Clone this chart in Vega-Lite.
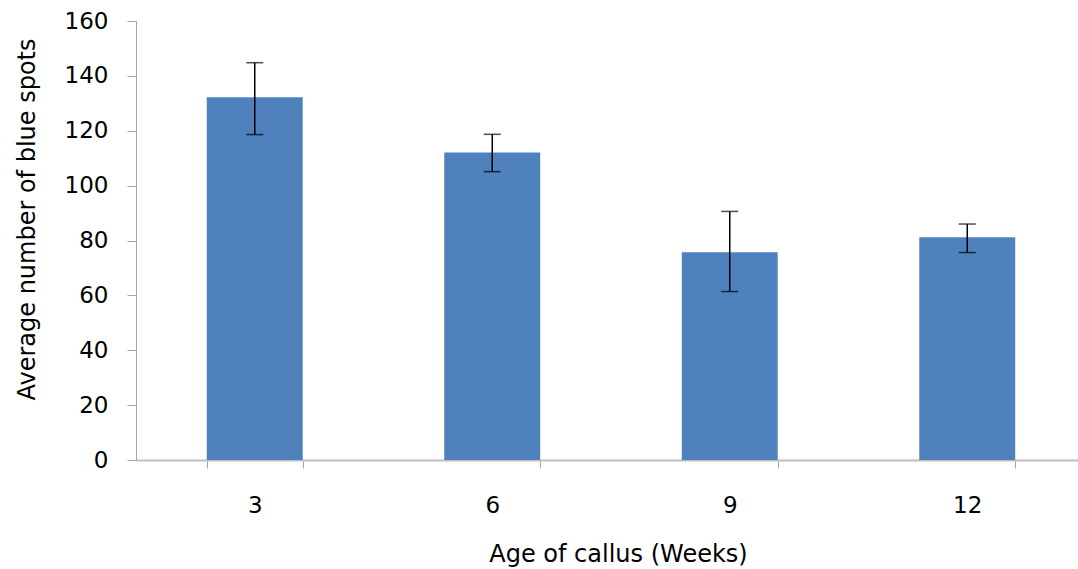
{
  "$schema": "https://vega.github.io/schema/vega-lite/v6.json",
  "autosize": "none",
  "padding": {"left": 136, "top": 21, "right": 0, "bottom": 109},
  "width": 942,
  "height": 439,
  "background": "white",
  "config": {
    "view": {"stroke": null},
    "font": "DejaVu Sans"
  },
  "data": {
    "values": [
      {"age": "3", "mean": 132.2, "low": 118.6, "high": 144.8},
      {"age": "6", "mean": 112.1, "low": 105.1, "high": 118.7},
      {"age": "9", "mean": 75.7, "low": 61.4, "high": 90.6},
      {"age": "12", "mean": 81.2, "low": 75.6, "high": 86.0}
    ]
  },
  "encoding": {
    "x": {
      "field": "age",
      "type": "ordinal",
      "sort": null,
      "scale": {"range": [0, 950], "paddingInner": 0.596, "paddingOuter": 0.298},
      "axis": {
        "title": "Age of callus (Weeks)",
        "labelAngle": 0,
        "labelFont": "DejaVu Sans",
        "labelFontSize": 23,
        "labelColor": "#000000",
        "labelPadding": 26,
        "tickSize": 8,
        "tickBand": "extent",
        "tickColor": "#A6A6A6",
        "domainColor": "#BFBFBF",
        "domainWidth": 2,
        "titleFont": "DejaVu Sans",
        "titleFontSize": 24,
        "titleFontWeight": "normal",
        "titleColor": "#000000",
        "titlePadding": 25,
        "titleX": 482
      }
    }
  },
  "layer": [
    {
      "mark": {"type": "bar", "color": "#4F81BD"},
      "encoding": {
        "y": {
          "field": "mean",
          "type": "quantitative",
          "scale": {"domain": [0, 160], "nice": false},
          "axis": {
            "title": "Average number of blue spots",
            "values": [0, 20, 40, 60, 80, 100, 120, 140, 160],
            "grid": false,
            "labelFont": "DejaVu Sans",
            "labelFontSize": 23,
            "labelColor": "#000000",
            "labelPadding": 19,
            "tickSize": 9,
            "tickColor": "#A6A6A6",
            "domainColor": "#A6A6A6",
            "titleFont": "DejaVu Sans",
            "titleFontSize": 24,
            "titleFontWeight": "normal",
            "titleColor": "#000000",
            "titlePadding": 25,
            "titleY": 198
          }
        }
      }
    },
    {
      "mark": {"type": "rule", "color": "#000000", "strokeWidth": 1.5},
      "encoding": {
        "y": {"field": "low", "type": "quantitative"},
        "y2": {"field": "high"}
      }
    },
    {
      "mark": {"type": "tick", "color": "#000000", "thickness": 1.5, "size": 17},
      "encoding": {"y": {"field": "low", "type": "quantitative"}}
    },
    {
      "mark": {"type": "tick", "color": "#000000", "thickness": 1.5, "size": 17},
      "encoding": {"y": {"field": "high", "type": "quantitative"}}
    }
  ]
}
